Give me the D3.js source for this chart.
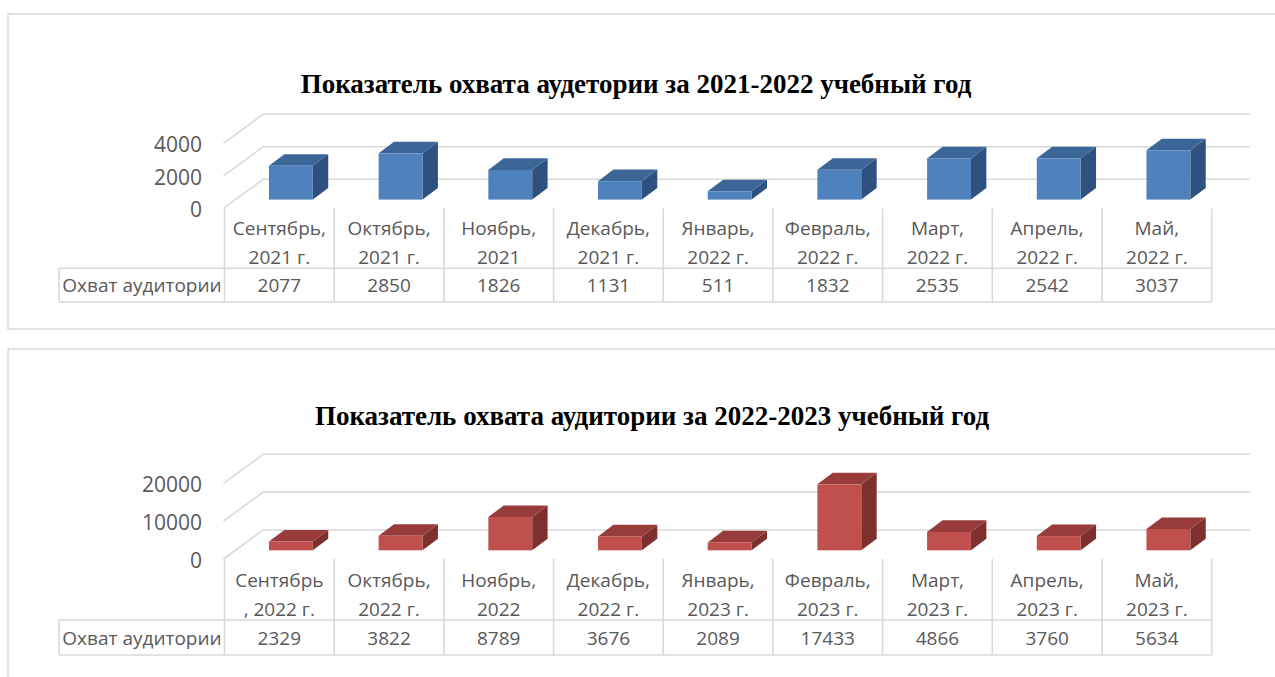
<!DOCTYPE html>
<html lang="ru">
  <head>
    <meta charset="UTF-8" />
    <title>Охват аудитории</title>
    <script src="https://cdn.jsdelivr.net/npm/d3@7"></script>
    <style>
      body {
        margin: 0;
        padding: 0;
        background: #fff;
      }
      svg {
        display: block;
      }
      .lbl {
        font-family: 'Open Sans', sans-serif;
        font-size: 19px;
        fill: #595959;
      }
      .ylbl {
        font-size: 21px;
      }
      .title {
        font-family: 'Liberation Serif', 'Times New Roman', serif;
        font-weight: bold;
        font-size: 27px;
        fill: #000;
      }
    </style>
  </head>

  <body>
    <script>
      // data
      const months1 = [
        ['Сентябрь,', '2021 г.'],
        ['Октябрь,', '2021 г.'],
        ['Ноябрь,', '2021'],
        ['Декабрь,', '2021 г.'],
        ['Январь,', '2022 г.'],
        ['Февраль,', '2022 г.'],
        ['Март,', '2022 г.'],
        ['Апрель,', '2022 г.'],
        ['Май,', '2022 г.'],
      ];
      const values1 = [2077, 2850, 1826, 1131, 511, 1832, 2535, 2542, 3037];
      const ticks1 = [0, 2000, 4000];

      const months2 = [
        ['Сентябрь', ', 2022 г.'],
        ['Октябрь,', '2022 г.'],
        ['Ноябрь,', '2022'],
        ['Декабрь,', '2022 г.'],
        ['Январь,', '2023 г.'],
        ['Февраль,', '2023 г.'],
        ['Март,', '2023 г.'],
        ['Апрель,', '2023 г.'],
        ['Май,', '2023 г.'],
      ];
      const values2 = [2329, 3822, 8789, 3676, 2089, 17433, 4866, 3760, 5634];
      const ticks2 = [0, 10000, 20000];

      const seriesName = 'Охват аудитории';
      const title1 = 'Показатель охвата аудетории за 2021-2022 учебный год';
      const title2 = 'Показатель охвата аудитории за 2022-2023 учебный год';

      const width = 1275;
      const height = 677;
      const svg = d3.select('body').append('svg').attr('width', width).attr('height', height);

      // depth of the 3d box
      const dx = 38.5;
      const dy = -29;

      function drawChart(cfg) {
        const g = svg.append('g');

        // chart frame
        g.append('rect')
          .attr('x', 8)
          .attr('y', cfg.frameTop)
          .attr('width', 1400)
          .attr('height', cfg.frameH)
          .attr('fill', 'none')
          .attr('stroke', '#d9d9d9')
          .attr('stroke-width', 1.5);

        g.append('text')
          .attr('class', 'title')
          .attr('x', cfg.titleX)
          .attr('y', cfg.titleY)
          .attr('text-anchor', 'middle')
          .text(cfg.title);

        const x = d3.scaleBand().domain(d3.range(cfg.values.length)).range([224.5, 1211.7]);
        const y = d3.scaleLinear().domain([0, cfg.ticks[cfg.ticks.length - 1]]).range([cfg.base, cfg.top]);
        const x0 = x.range()[0];
        const x1 = x.range()[1];

        // gridlines: front diagonal + back wall
        const grid = g.append('g').attr('fill', 'none').attr('stroke', '#d9d9d9').attr('stroke-width', 1.6);
        cfg.ticks.forEach((t) => {
          const fy = y(t);
          grid
            .append('polyline')
            .attr('points', [
              [x0 - 1, fy],
              [x0 + dx, fy + dy],
              [x1 + dx, fy + dy],
            ].join(' '));
        });

        // y axis labels
        g.selectAll('.ytick')
          .data(cfg.ticks)
          .enter()
          .append('text')
          .attr('class', 'lbl ylbl')
          .attr('x', 202)
          .attr('y', (d) => y(d) + 1)
          .attr('text-anchor', 'end')
          .attr('dominant-baseline', 'central')
          .text((d) => d);

        // bars
        const bw = x.bandwidth();
        const w = bw * 0.4;
        const f0 = 0.3;
        const fd = 0.4;
        const bars = g.selectAll('.bar').data(cfg.values).enter().append('g');
        bars.each(function (v, i) {
          const b = d3.select(this);
          const fx = x(i) + bw * 0.3 + f0 * dx;
          const by = y(0) + f0 * dy;
          const ty = by - (y(0) - y(v));
          const ddx = fd * dx;
          const ddy = fd * dy;
          b.append('polygon')
            .attr('points', [
              [fx + w, ty],
              [fx + w, by],
              [fx + w + ddx, by + ddy],
              [fx + w + ddx, ty + ddy],
            ].join(' '))
            .attr('fill', cfg.colors[2]);
          b.append('polygon')
            .attr('points', [
              [fx, ty],
              [fx + w, ty],
              [fx + w + ddx, ty + ddy],
              [fx + ddx, ty + ddy],
            ].join(' '))
            .attr('fill', cfg.colors[1]);
          b.append('rect')
            .attr('x', fx)
            .attr('y', ty)
            .attr('width', w)
            .attr('height', by - ty)
            .attr('fill', cfg.colors[0]);
        });

        // data table
        const tb = g.append('g').attr('stroke', '#d9d9d9').attr('stroke-width', 1.6).attr('fill', 'none');
        d3.range(cfg.values.length + 1).forEach((i) => {
          const xx = i < cfg.values.length ? x(i) : x1;
          tb.append('line').attr('x1', xx).attr('x2', xx).attr('y1', y(0)).attr('y2', cfg.rowBottom);
        });
        tb.append('line').attr('x1', 59).attr('x2', x1).attr('y1', cfg.rowTop).attr('y2', cfg.rowTop);
        tb.append('line').attr('x1', 59).attr('x2', x1).attr('y1', cfg.rowBottom).attr('y2', cfg.rowBottom);
        tb.append('line').attr('x1', 59).attr('x2', 59).attr('y1', cfg.rowTop).attr('y2', cfg.rowBottom);

        const cats = g.selectAll('.cat').data(cfg.months).enter().append('text')
          .attr('class', 'lbl')
          .attr('text-anchor', 'middle');
        cats.each(function (d, i) {
          const t = d3.select(this);
          d.forEach((line, k) => {
            t.append('tspan')
              .attr('x', x(i) + bw / 2)
              .attr('y', cfg.catY + k * 29)
              .attr('dominant-baseline', 'central')
              .text(line);
          });
        });

        const midRow = (cfg.rowTop + cfg.rowBottom) / 2;
        g.append('text')
          .attr('class', 'lbl')
          .attr('x', 142)
          .attr('y', midRow)
          .attr('text-anchor', 'middle')
          .attr('dominant-baseline', 'central')
          .text(seriesName);

        g.selectAll('.val')
          .data(cfg.values)
          .enter()
          .append('text')
          .attr('class', 'lbl')
          .attr('x', (d, i) => x(i) + bw / 2)
          .attr('y', midRow)
          .attr('text-anchor', 'middle')
          .attr('dominant-baseline', 'central')
          .text((d) => d);
      }

      drawChart({
        title: title1,
        months: months1,
        values: values1,
        ticks: ticks1,
        frameTop: 14,
        frameH: 315,
        titleX: 636,
        titleY: 93,
        base: 208.3,
        top: 143.3,
        rowTop: 268.3,
        rowBottom: 302,
        catY: 228,
        colors: ['#4f81bd', '#3c6598', '#2f5180'],
      });

      drawChart({
        title: title2,
        months: months2,
        values: values2,
        ticks: ticks2,
        frameTop: 349,
        frameH: 400,
        titleX: 652,
        titleY: 425,
        base: 559,
        top: 483.3,
        rowTop: 620,
        rowBottom: 655,
        catY: 580,
        colors: ['#c0504d', '#973c3a', '#7e302e'],
      });
    </script>
  </body>
</html>
